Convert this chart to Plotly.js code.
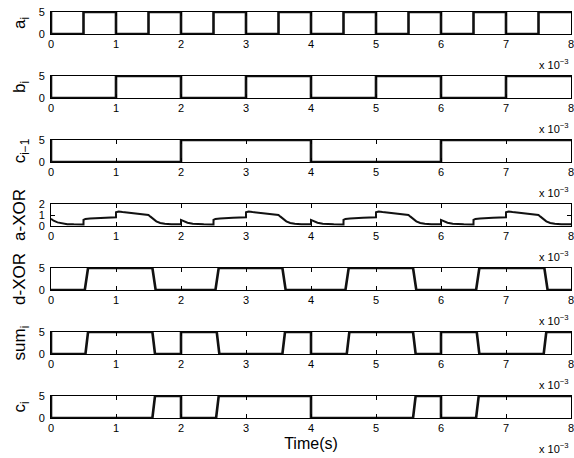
<!DOCTYPE html>
<html>
<head>
<meta charset="utf-8">
<script src="https://cdn.plot.ly/plotly-3.0.1.min.js"></script>
<style>html,body{margin:0;padding:0;background:#fff;}#chart{width:574px;height:458px;}</style>
</head>
<body>
<div id="chart"></div>
<script>
// Time in units of 1e-3 s
const xTicks = [0,1,2,3,4,5,6,7,8];
const yLabels = ['a<sub>i</sub>','b<sub>i</sub>','c<sub>i−1</sub>','a-XOR','d-XOR','sum<sub>i</sub>','c<sub>i</sub>'];

// a_i (step, hv)
const aT = [0,0,0.5,1,1.5,2,2.5,3,3.5,4,4.5,5,5.5,6,6.5,7,7.5,8];
const aV = [5,0,5,0,5,0,5,0,5,0,5,0,5,0,5,0,5,5];
// b_i (step, hv)
const bT = [0,0,1,2,3,4,5,6,7,8];
const bV = [5,0,5,0,5,0,5,0,5,5];
// c_{i-1} (step, hv)
const cT = [0,0,2,4,6,8];
const cV = [5,0,5,0,5,5];
// a-XOR analog output
const axT = [0,0.04,0.1,0.18,0.25,0.35,0.5,0.5,0.53,0.6,0.8,1.0,1.0,1.04,1.1,1.2,1.35,1.5,1.53,1.57,1.62,1.68,1.75,1.85,2.0,
             2.0,2.04,2.1,2.18,2.25,2.35,2.5,2.5,2.53,2.6,2.8,3.0,3.0,3.04,3.1,3.2,3.35,3.5,3.53,3.57,3.62,3.68,3.75,3.85,4.0,
             4.0,4.04,4.1,4.18,4.25,4.35,4.5,4.5,4.53,4.6,4.8,5.0,5.0,5.04,5.1,5.2,5.35,5.5,5.53,5.57,5.62,5.68,5.75,5.85,6.0,
             6.0,6.04,6.1,6.18,6.25,6.35,6.5,6.5,6.53,6.6,6.8,7.0,7.0,7.04,7.1,7.2,7.35,7.5,7.53,7.57,7.62,7.68,7.75,7.85,8.0];
const axV = [0.65,0.48,0.33,0.22,0.17,0.15,0.14,0.55,0.64,0.69,0.76,0.80,1.25,1.32,1.27,1.2,1.1,1.0,0.85,0.62,0.42,0.28,0.2,0.16,0.15,
             0.55,0.42,0.3,0.2,0.16,0.15,0.14,0.55,0.64,0.69,0.76,0.80,1.25,1.32,1.27,1.2,1.1,1.0,0.85,0.62,0.42,0.28,0.2,0.16,0.15,
             0.55,0.42,0.3,0.2,0.16,0.15,0.14,0.55,0.64,0.69,0.76,0.80,1.25,1.32,1.27,1.2,1.1,1.0,0.85,0.62,0.42,0.28,0.2,0.16,0.15,
             0.55,0.42,0.3,0.2,0.16,0.15,0.14,0.55,0.64,0.69,0.76,0.80,1.25,1.32,1.27,1.2,1.1,1.0,0.85,0.62,0.42,0.28,0.2,0.16,0.15];
// d-XOR (linear with slanted edges)
const dT = [0,0.52,0.57,1.56,1.61,2.53,2.58,3.56,3.61,4.53,4.58,5.57,5.62,6.54,6.59,7.59,7.64,8];
const dV = [0,0,5,5,0,0,5,5,0,0,5,5,0,0,5,5,0,0];
// sum_i
const sT = [0,0,0.53,0.57,1.56,1.60,2.0,2.0,2.55,2.59,3.56,3.60,4.0,4.0,4.55,4.59,5.57,5.61,6.0,6.0,6.55,6.59,7.58,7.62,8];
const sV = [5,0,0,5,5,0,0,5,5,0,0,5,5,0,0,5,5,0,0,5,5,0,0,5,5];
// c_i
const ciT = [0,0,1.56,1.60,2.0,2.0,2.54,2.58,4.0,4.0,5.57,5.61,6.0,6.0,6.54,6.58,8];
const ciV = [5,0,0,5,5,0,0,5,5,0,0,5,5,0,0,5,5];

const FONT = 'Liberation Sans, Arial, Helvetica, sans-serif';
const LINE = {color:'#111', width:2.6};

const series = [
  {x:aT, y:aV, shape:'hv'},
  {x:bT, y:bV, shape:'hv'},
  {x:cT, y:cV, shape:'hv'},
  {x:axT, y:axV, shape:'linear', w:2},
  {x:dT, y:dV, shape:'linear'},
  {x:sT, y:sV, shape:'linear'},
  {x:ciT, y:ciV, shape:'linear'}
];

const W = 574, H = 458;
const mT = 12, mB = 40, mL = 51, mR = 3;
const plotH = H - mT - mB; // 406
const panelTop = [12,76,140,204,268,332,396];
const panelH = 22;

const data = [];
const layout = {
  width: W, height: H,
  margin: {l:mL, r:mR, t:mT, b:mB, pad:0},
  paper_bgcolor:'#fff', plot_bgcolor:'#fff',
  showlegend:false,
  font:{family:FONT, color:'#000', size:11},
  annotations: []
};

series.forEach((s, i) => {
  const k = i + 1;
  const xa = k === 1 ? 'x' : 'x' + k;
  const ya = k === 1 ? 'y' : 'y' + k;
  data.push({
    type:'scatter', mode:'lines', x:s.x, y:s.y, xaxis:xa, yaxis:ya,
    line:{color:LINE.color, width:s.w || LINE.width, shape:s.shape},
    hoverinfo:'skip'
  });
  const top = panelTop[i], bot = top + panelH;
  const dom = [(H - mB - bot) / plotH, (H - mB - top) / plotH];
  const isAX = i === 3;
  const xaxis = {
    anchor: ya, range:[0,8], tickvals:xTicks, ticktext:xTicks.map(String),
    ticks:'inside', ticklen:4, tickwidth:1, tickcolor:'#000',
    showline:true, linecolor:'#000', linewidth:1, mirror:'ticks',
    showgrid:false, zeroline:false, fixedrange:true,
    ticklabeloverflow:'allow',
    tickfont:{family:FONT, size:11, color:'#000'}
  };
  if (i === 6) {
    xaxis.title = {text:'Time(s)', font:{family:FONT, size:16, color:'#000'}, standoff:4};
  }
  const yaxis = {
    anchor: xa, domain: dom,
    range: isAX ? [0,2] : [0,5],
    tickvals: isAX ? [0,1,2] : [0,5],
    ticks:'inside', ticklen:4, tickwidth:1, tickcolor:'#000',
    showline:true, linecolor:'#000', linewidth:1, mirror:'ticks',
    showgrid:false, zeroline:false, fixedrange:true,
    ticklabelstandoff: 3,
    tickfont:{family:FONT, size:11, color:'#000'},
    title:{text:yLabels[i], font:{family:FONT, size:17, color:'#000'}, standoff:8}
  };
  layout[k === 1 ? 'xaxis' : 'xaxis' + k] = xaxis;
  layout[k === 1 ? 'yaxis' : 'yaxis' + k] = yaxis;
  layout.annotations.push({
    xref:'paper', x:1, xanchor:'right',
    yref: ya + ' domain', y:0, yanchor:'top', yshift:-21,
    text:'x 10<sup>−3</sup>', showarrow:false,
    font:{family:FONT, size:11, color:'#000'}
  });
});

Plotly.newPlot('chart', data, layout, {staticPlot:true, displayModeBar:false});
</script>
</body>
</html>
